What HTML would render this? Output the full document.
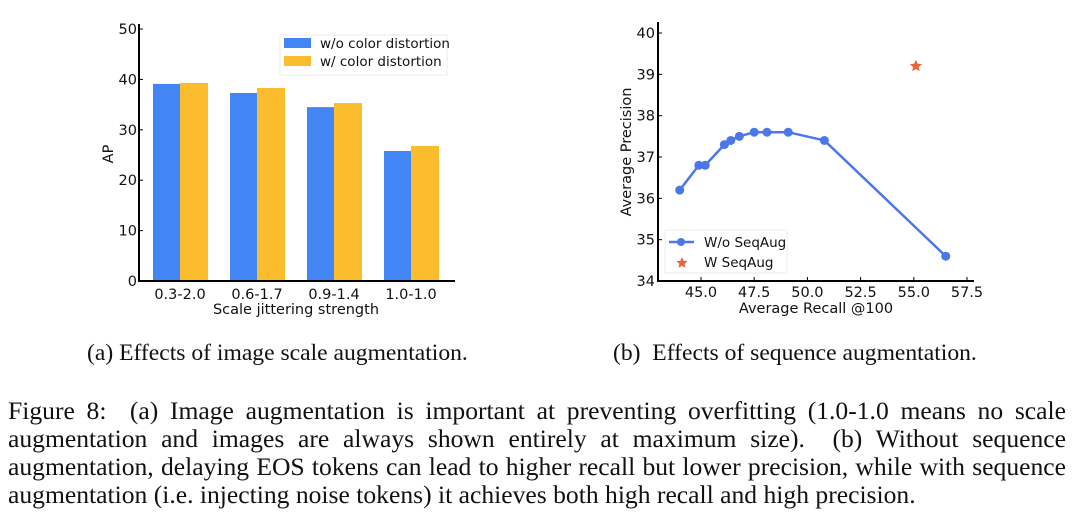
<!DOCTYPE html>
<html><head><meta charset="utf-8"><style>
body{margin:0;background:#fff;width:1072px;height:523px;overflow:hidden;position:relative;font-family:"Liberation Serif",serif}
svg text{font-family:"DejaVu Sans","Liberation Sans",sans-serif;fill:#111}
.cap{position:absolute;font-size:23.6px;color:#111;white-space:nowrap}
.fig{position:absolute;left:8px;width:1058px;font-size:25.6px;line-height:28px;color:#111}
.fig div{text-align:justify;text-align-last:justify;white-space:nowrap}
.fig div.last{text-align-last:left}
</style></head><body>
<svg width="1072" height="340" style="position:absolute;left:0;top:0">
<g id="left"></g>
<g id="right"></g>
</svg>
<div class="cap" style="left:87px;top:340px">(a) Effects of image scale augmentation.</div>
<div class="cap" style="left:613px;top:340px">(b)&nbsp; Effects of sequence augmentation.</div>
<div class="fig" style="top:397px">
<div>Figure 8:&nbsp; (a) Image augmentation is important at preventing overfitting (1.0-1.0 means no scale</div>
<div>augmentation and images are always shown entirely at maximum size).&nbsp; (b) Without sequence</div>
<div>augmentation, delaying EOS tokens can lead to higher recall but lower precision, while with sequence</div>
<div class="last">augmentation (i.e. injecting noise tokens) it achieves both high recall and high precision.</div>
</div>
<script>
const categories=["0.3-2.0","0.6-1.7","0.9-1.4","1.0-1.0"];
const woColor=[39.1,37.3,34.5,25.8];
const wColor=[39.3,38.3,35.3,26.8];
const yTicksA=[0,10,20,30,40,50];
const recall=[44.0,44.9,45.2,46.1,46.4,46.8,47.5,48.1,49.1,50.8,56.5];
const precision=[36.2,36.8,36.8,37.3,37.4,37.5,37.6,37.6,37.6,37.4,34.6];
const seqAugRecall=[55.1];
const seqAugPrecision=[39.2];
const xTicksB=[45.0,47.5,50.0,52.5,55.0,57.5];
const yTicksB=[34,35,36,37,38,39,40];
const NS="http://www.w3.org/2000/svg";
function mk(p,t,a,txt){const e=document.createElementNS(NS,t);for(const k in a)e.setAttribute(k,a[k]);if(txt!==undefined)e.textContent=txt;p.appendChild(e);return e;}
const FS=14.5;
// left
const L=document.getElementById('left');
const ay=v=>281-v*(252/50);
const ax=i=>180+i*77;
categories.forEach((c,i)=>{
 let b=mk(L,'rect',{x:ax(i)-27,y:ay(woColor[i]),width:27,height:281-ay(woColor[i]),fill:'#4285f4'});
 
 
 let b2=mk(L,'rect',{x:ax(i),y:ay(wColor[i]),width:28,height:281-ay(wColor[i]),fill:'#fbbc2d'});
 
 
 let t=mk(L,'text',{x:ax(i),y:299,'font-size':FS,'text-anchor':'middle'},c);
 
 
});
mk(L,'line',{x1:139,y1:24,x2:139,y2:282,stroke:'#000','stroke-width':2});
mk(L,'line',{x1:138,y1:281,x2:455,y2:281,stroke:'#000','stroke-width':2});
yTicksA.forEach(v=>{mk(L,'line',{x1:139,y1:ay(v),x2:143,y2:ay(v),stroke:'#000'});
 let t=mk(L,'text',{x:137,y:ay(v)+5,'font-size':FS,'text-anchor':'end'},v);
 
 });
mk(L,'text',{x:296,y:314,'font-size':FS,'text-anchor':'middle',},'Scale jittering strength');
mk(L,'text',{x:0,y:0,'font-size':FS,'text-anchor':'middle',transform:'translate(113,154) rotate(-90)',},'AP');
let lg=mk(L,'g',{});
mk(lg,'rect',{x:280,y:35,width:167,height:40,fill:'#fff',stroke:'#eee'});
mk(lg,'rect',{x:284,y:38,width:27,height:10,fill:'#4285f4'});
mk(lg,'rect',{x:284,y:56,width:27,height:10,fill:'#fbbc2d'});
mk(lg,'text',{x:320,y:48,'font-size':13.5},'w/o color distortion');
mk(lg,'text',{x:320,y:66,'font-size':13.5},'w/ color distortion');
// right
const R=document.getElementById('right');
const bx=v=>701+(v-45)*(266/12.5);
const by=v=>281-(v-34)*(248/6);
let pts=recall.map((r,i)=>bx(r)+','+by(precision[i])).join(' ');
mk(R,'polyline',{points:pts,fill:'none',stroke:'#4a78e8','stroke-width':2.5,});
recall.forEach((r,i)=>{let c=mk(R,'circle',{cx:bx(r),cy:by(precision[i]),r:4.5,fill:'#4a78e8'});
 
 });
function star(cx,cy,r){let p=[];for(let k=0;k<10;k++){const a=-Math.PI/2+k*Math.PI/5,rr=k%2?r*0.45:r;p.push((cx+rr*Math.cos(a)).toFixed(1)+','+(cy+rr*Math.sin(a)).toFixed(1));}return p.join(' ');}
seqAugRecall.forEach((r,i)=>{let s=mk(R,'polygon',{points:star(bx(r),by(seqAugPrecision[i]),6.5),fill:'#e8643a'});
 
 });
mk(R,'line',{x1:658,y1:22,x2:658,y2:282,stroke:'#000','stroke-width':2});
mk(R,'line',{x1:657,y1:281,x2:974,y2:281,stroke:'#000','stroke-width':2});
yTicksB.forEach(v=>{mk(R,'line',{x1:658,y1:by(v),x2:662,y2:by(v),stroke:'#000'});
 let t=mk(R,'text',{x:655,y:by(v)+5,'font-size':FS,'text-anchor':'end'},v);
 
 });
xTicksB.forEach(v=>{mk(R,'line',{x1:bx(v),y1:281,x2:bx(v),y2:277,stroke:'#000'});
 let t=mk(R,'text',{x:bx(v),y:297,'font-size':FS,'text-anchor':'middle'},v.toFixed(1));
 
 });
mk(R,'text',{x:816,y:313,'font-size':FS,'text-anchor':'middle',},'Average Recall @100');
mk(R,'text',{x:0,y:0,'font-size':FS,'text-anchor':'middle',transform:'translate(631,152) rotate(-90)',},'Average Precision');
let lg2=mk(R,'g',{});
mk(lg2,'rect',{x:665,y:230,width:122,height:43,fill:'#fff',stroke:'#eee'});
mk(lg2,'line',{x1:669,y1:242,x2:694,y2:242,stroke:'#4a78e8','stroke-width':2.5});
mk(lg2,'circle',{cx:681,cy:242,r:4,fill:'#4a78e8'});
mk(lg2,'polygon',{points:star(682,263,6),fill:'#e8643a'});
mk(lg2,'text',{x:704,y:247,'font-size':13.5},'W/o SeqAug');
mk(lg2,'text',{x:704,y:267,'font-size':13.5},'W SeqAug');
</script>
</body></html>
